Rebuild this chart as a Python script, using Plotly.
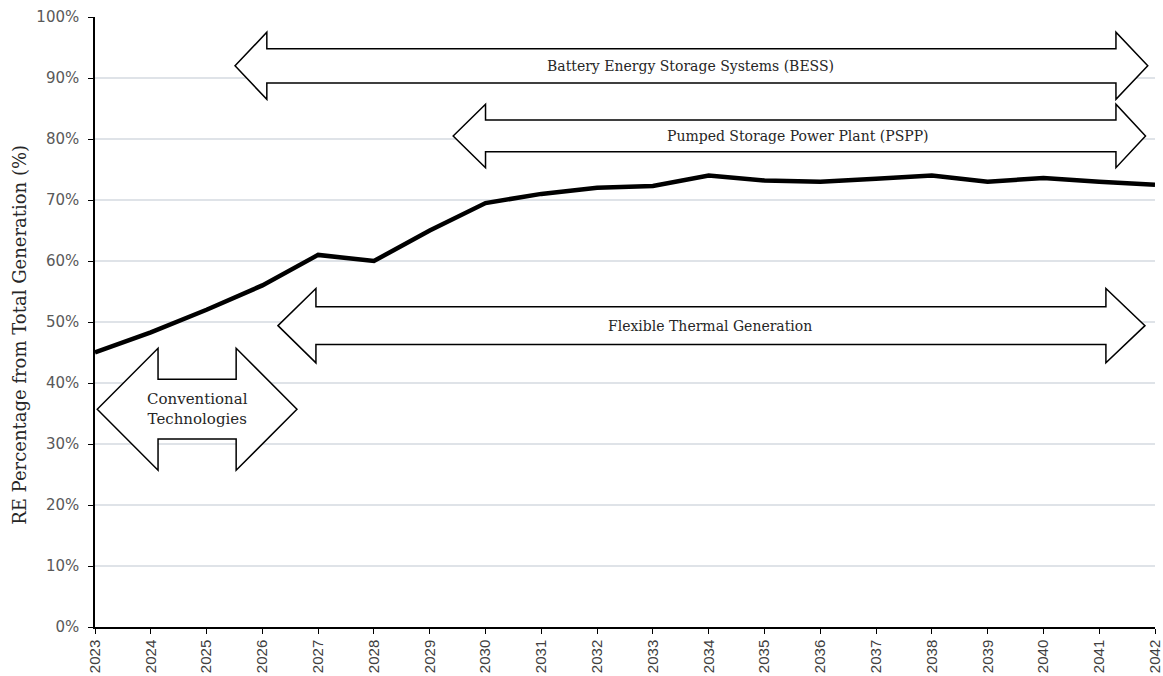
import plotly.graph_objects as go

years = list(range(2023, 2043))
re_share = [45.0, 48.3, 52.0, 56.0, 61.0, 60.0, 65.0, 69.5, 71.0, 72.0,
            72.3, 74.0, 73.2, 73.0, 73.5, 74.0, 73.0, 73.6, 73.0, 72.5]
y_ticks = [0, 10, 20, 30, 40, 50, 60, 70, 80, 90, 100]
y_tick_labels = [f"{v}%" for v in y_ticks]
y_title = "RE Percentage from Total Generation (%)"

# Double-headed block arrows (in data units)
arrow_labels = ["Battery Energy Storage Systems (BESS)",
                "Pumped Storage Power Plant (PSPP)",
                "Flexible Thermal Generation",
                "Conventional<br>Technologies"]
arrow_x_tip_left = [2025.51, 2029.42, 2026.28, 2023.04]
arrow_x_base_left = [2026.08, 2030.0, 2026.96, 2024.13]
arrow_x_base_right = [2041.3, 2041.3, 2041.12, 2025.53]
arrow_x_tip_right = [2041.87, 2041.83, 2041.82, 2026.62]
arrow_y_center = [92.0, 80.5, 49.4, 35.7]
arrow_head_half = [5.5, 5.2, 6.1, 10.0]
arrow_shaft_half = [2.8, 2.6, 3.1, 4.9]
label_x = [2033.68, 2035.6, 2034.02, 2024.83]
label_size = [14, 14, 14, 15]

fig = go.Figure()

fig.add_trace(go.Scatter(
    x=years, y=re_share, mode="lines",
    line=dict(color="black", width=4.5),
    hoverinfo="skip", showlegend=False,
))

for i in range(len(arrow_labels)):
    xl, xbl, xbr, xr = (arrow_x_tip_left[i], arrow_x_base_left[i],
                        arrow_x_base_right[i], arrow_x_tip_right[i])
    yc, hh, sh = arrow_y_center[i], arrow_head_half[i], arrow_shaft_half[i]
    pts = [(xl, yc), (xbl, yc + hh), (xbl, yc + sh), (xbr, yc + sh), (xbr, yc + hh),
           (xr, yc), (xbr, yc - hh), (xbr, yc - sh), (xbl, yc - sh), (xbl, yc - hh)]
    path = "M " + " L ".join(f"{px},{py}" for px, py in pts) + " Z"
    fig.add_shape(type="path", path=path, xref="x", yref="y",
                  line=dict(color="black", width=1.5), fillcolor="white", layer="above")
    fig.add_annotation(x=label_x[i], y=yc, xref="x", yref="y", text=arrow_labels[i],
                       showarrow=False,
                       font=dict(family="DejaVu Serif", size=label_size[i], color="#262626"))

# y-axis title (rotated text, slightly below the axis centre as in the original)
fig.add_annotation(x=0, y=0.479, xref="paper", yref="paper", text=y_title,
                   textangle=-90, showarrow=False, xanchor="center", yanchor="middle",
                   xshift=-75,
                   font=dict(family="DejaVu Serif", size=18, color="#262626"))

fig.update_layout(
    width=1163, height=676,
    margin=dict(l=95, r=8, t=17, b=49),
    paper_bgcolor="white", plot_bgcolor="white",
    showlegend=False,
    xaxis=dict(
        range=[2023, 2042], tickmode="array", tickvals=years,
        ticktext=[str(y) for y in years], tickangle=-90,
        showgrid=False, showline=True, linecolor="black", linewidth=1.5,
        ticks="outside", ticklen=5, tickcolor="black",
        tickfont=dict(family="Liberation Sans", size=15, color="#404040"),
        zeroline=False, automargin=False,
    ),
    yaxis=dict(
        range=[0, 100], tickmode="array", tickvals=y_ticks, ticktext=y_tick_labels,
        showgrid=True, gridcolor="#dfe3e8", gridwidth=1.5,
        showline=True, linecolor="black", linewidth=1.5,
        ticks="outside", ticklen=5, tickcolor="black", ticklabelstandoff=6,
        tickfont=dict(family="DejaVu Sans", size=15, color="#595959"),
        zeroline=False, automargin=False,
    ),
)

fig.write_html(
    "out.html",
    config={"displayModeBar": False},
    post_script="document.body.style.margin='0';document.body.style.overflow='hidden';",
)
